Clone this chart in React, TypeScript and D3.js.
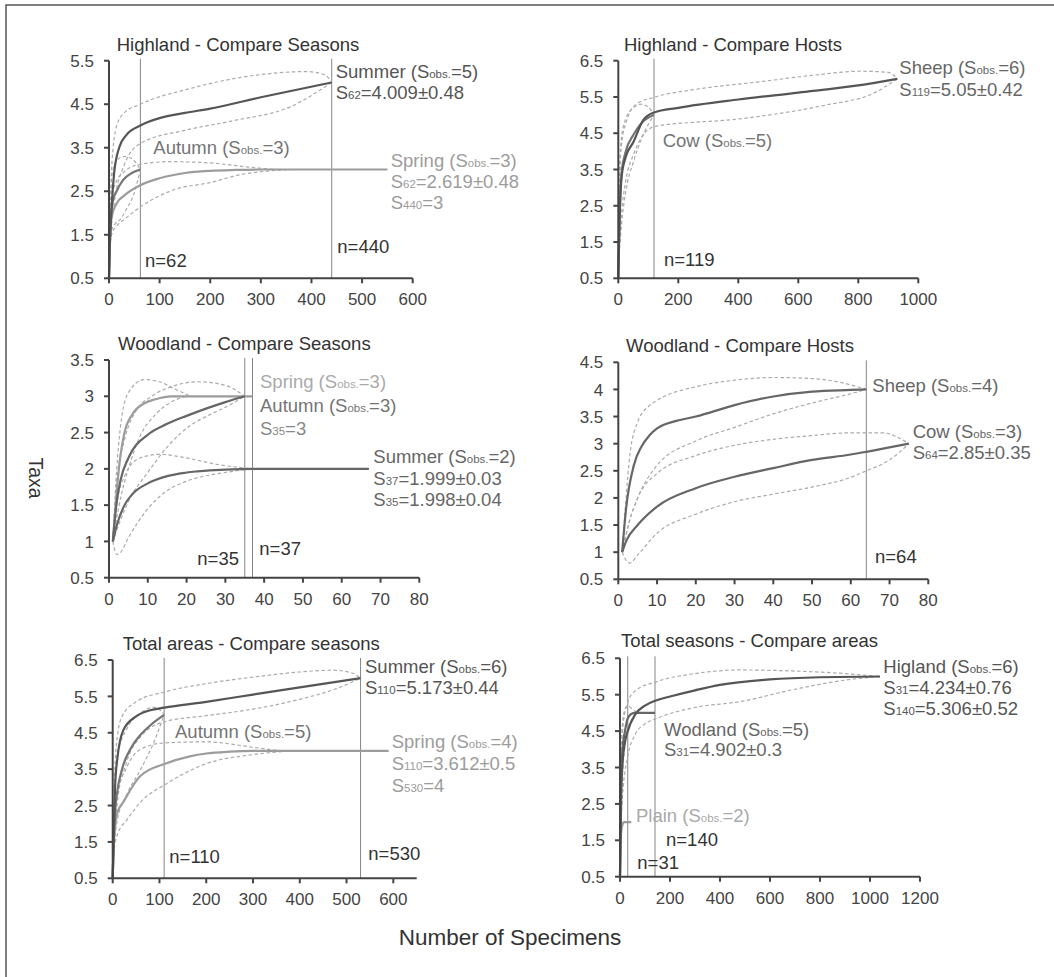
import React from "react"
import * as d3 from "d3"

// rarefaction curves, [specimens, taxa]

// Highland - Compare Seasons
const hsSummer = [[0, 0.5], [1, 1], [5, 2.1], [10, 2.9], [20, 3.5], [35, 3.8], [62, 4.01], [100, 4.18], [150, 4.3], [200, 4.4], [300, 4.66], [440, 5.0]]
const hsSummerHi = [[0, 0.5], [1, 1], [5, 3.0], [15, 4.0], [30, 4.3], [62, 4.5], [160, 4.86], [292, 5.17], [390, 5.25], [425, 5.18], [440, 5.02]]
const hsSummerLo = [[0, 0.5], [1, 1], [10, 2.2], [30, 3.1], [62, 3.6], [150, 3.9], [245, 4.12], [358, 4.44], [440, 5.0]]
const hsAutumn = [[0, 0.5], [1, 1], [3, 1.8], [8, 2.3], [15, 2.5], [28, 2.76], [45, 2.92], [62, 3.0]]
const hsAutumnHi = [[0, 0.5], [1, 1], [5, 2.8], [15, 3.2], [30, 3.3], [45, 3.25], [62, 3.0]]
const hsAutumnLo = [[0, 0.5], [1, 1], [5, 1.6], [12, 1.75], [22, 1.85], [35, 2.1], [48, 2.4], [62, 3.0]]
const hsSpring = [[0, 0.5], [1, 1], [5, 1.9], [15, 2.22], [30, 2.4], [62, 2.64], [100, 2.8], [150, 2.92], [200, 2.97], [250, 2.99], [300, 3], [550, 3]]
const hsSpringHi = [[0, 0.5], [1, 1], [10, 2.6], [30, 2.95], [62, 3.12], [120, 3.18], [200, 3.15], [280, 3.05], [330, 3.0]]
const hsSpringLo = [[0, 0.5], [1, 1], [5, 1.5], [15, 1.7], [30, 1.85], [62, 2.14], [127, 2.53], [200, 2.7], [259, 2.88], [320, 2.97], [360, 3.0]]

// Highland - Compare Hosts
const hhSheep = [[0, 0.5], [1, 1], [5, 2.3], [11, 3.3], [25, 3.85], [50, 4.25], [83, 4.86], [119, 5.07], [200, 5.2], [400, 5.43], [600, 5.62], [800, 5.82], [930, 6.0]]
const hhSheepHi = [[0, 0.5], [1, 1], [5, 3.3], [11, 4.2], [30, 4.9], [60, 5.3], [119, 5.49], [250, 5.7], [472, 5.92], [650, 6.1], [806, 6.21], [900, 6.18], [930, 6.0]]
const hhSheepLo = [[0, 0.5], [1, 1], [5, 1.6], [11, 2.3], [25, 3.2], [50, 3.9], [72, 4.31], [119, 4.68], [250, 4.8], [361, 4.86], [500, 5.0], [694, 5.28], [850, 5.6], [930, 6.0]]
const hhCow = [[0, 0.5], [1, 1], [5, 2.4], [11, 3.4], [25, 4.0], [50, 4.45], [80, 4.8], [119, 5.0]]
const hhCowHi = [[0, 0.5], [1, 1], [5, 3.6], [11, 4.4], [25, 4.9], [50, 5.2], [75, 5.3], [100, 5.22], [119, 5.0]]
const hhCowLo = [[0, 0.5], [1, 1], [5, 1.4], [11, 2.0], [25, 2.9], [50, 3.7], [80, 4.4], [119, 5.0]]

// Woodland - Compare Seasons
const wsSpring = [[1, 1], [2, 1.7], [3, 2.2], [4, 2.5], [6, 2.75], [9, 2.9], [12, 2.96], [16, 3.0], [37, 3.0]]
const wsSpringHi = [[1, 1], [2, 2.0], [3, 2.6], [5, 3.05], [9, 3.23], [13, 3.2], [17, 3.1], [21, 3.0]]
const wsSpringLo = [[1, 1], [3, 1.6], [5, 2.0], [8, 2.45], [12, 2.75], [16, 2.92], [20, 3.0]]
const wsAutumn = [[1, 1], [2, 1.55], [3, 1.85], [5, 2.15], [10, 2.47], [15, 2.62], [20, 2.73], [25, 2.83], [30, 2.92], [35, 3.0]]
const wsAutumnHi = [[1, 1], [2, 1.8], [4, 2.4], [7, 2.8], [11, 3.0], [16, 3.13], [23, 3.2], [30, 3.15], [35, 3.0]]
const wsAutumnLo = [[1, 1], [3, 1.3], [5, 1.55], [10, 1.95], [15, 2.3], [21, 2.6], [25, 2.72], [30, 2.85], [35, 3.0]]
const wsSummer = [[1, 1], [2, 1.22], [4, 1.5], [6, 1.65], [10, 1.8], [15, 1.9], [20, 1.95], [30, 1.99], [37, 2.0], [67, 2.0]]
const wsSummerHi = [[1, 1], [2, 1.5], [4, 1.9], [8, 2.15], [13, 2.2], [20, 2.15], [28, 2.06], [37, 2.0]]
const wsSummerLo = [[1, 1], [2, 0.82], [3, 0.85], [5, 1.05], [10, 1.45], [15, 1.7], [20, 1.83], [30, 1.95], [37, 2.0]]

// Woodland - Compare Hosts
const whSheep = [[1, 1], [2, 1.8], [4, 2.6], [6, 2.95], [8, 3.15], [10, 3.28], [15, 3.42], [20, 3.5], [30, 3.71], [40, 3.87], [50, 3.96], [60, 3.99], [64, 4.0]]
const whSheepHi = [[1, 1], [2, 2.0], [3, 2.8], [5, 3.4], [8, 3.7], [10, 3.8], [20, 4.05], [30, 4.17], [40, 4.22], [50, 4.2], [58, 4.12], [64, 4.0]]
const whSheepLo = [[1, 1], [3, 1.6], [5, 2.0], [10, 2.6], [20, 3.05], [30, 3.3], [40, 3.55], [50, 3.75], [60, 3.92], [64, 4.0]]
const whCow = [[1, 1], [2, 1.2], [5, 1.5], [10, 1.84], [20, 2.18], [30, 2.39], [40, 2.55], [50, 2.7], [60, 2.8], [64, 2.85], [75, 3.0]]
const whCowHi = [[1, 1], [3, 1.6], [5, 2.0], [10, 2.45], [20, 2.78], [30, 2.97], [40, 3.08], [50, 3.15], [60, 3.2], [68, 3.2], [75, 3.0]]
const whCowLo = [[1, 1], [2, 0.85], [3, 0.8], [5, 0.95], [10, 1.35], [20, 1.7], [30, 1.93], [40, 2.07], [50, 2.2], [60, 2.38], [64, 2.5], [70, 2.7], [75, 3.0]]

// Total areas - Compare seasons
const tsSummer = [[0, 0.5], [1, 1], [5, 3.0], [10, 3.8], [23, 4.58], [50, 4.95], [80, 5.12], [110, 5.19], [200, 5.35], [300, 5.55], [400, 5.75], [530, 6.0]]
const tsSummerHi = [[0, 0.5], [1, 1], [5, 3.6], [10, 4.4], [20, 4.95], [50, 5.35], [110, 5.62], [200, 5.85], [300, 6.03], [400, 6.17], [470, 6.22], [510, 6.15], [530, 6.0]]
const tsSummerLo = [[0, 0.5], [1, 1], [10, 2.6], [30, 3.7], [60, 4.4], [110, 4.8], [200, 4.97], [300, 5.15], [400, 5.42], [480, 5.72], [530, 6.0]]
const tsAutumn = [[0, 0.5], [1, 1], [5, 2.3], [10, 2.9], [20, 3.5], [40, 4.1], [60, 4.45], [80, 4.7], [110, 4.99]]
const tsAutumnHi = [[0, 0.5], [1, 1], [5, 3.2], [10, 3.9], [30, 4.6], [60, 5.05], [90, 5.2], [110, 5.0]]
const tsAutumnLo = [[0, 0.5], [1, 1], [10, 2.1], [30, 2.8], [60, 3.5], [90, 4.3], [110, 5.0]]
const tsSpring = [[0, 0.5], [1, 1], [5, 1.9], [10, 2.3], [23, 2.6], [58, 3.3], [115, 3.66], [165, 3.85], [200, 3.93], [250, 3.98], [300, 4.0], [590, 4.0]]
const tsSpringHi = [[0, 0.5], [1, 1], [10, 2.8], [30, 3.55], [60, 4.05], [110, 4.22], [200, 4.25], [300, 4.1], [360, 4.0]]
const tsSpringLo = [[0, 0.5], [1, 1], [10, 1.7], [30, 2.1], [60, 2.6], [115, 3.1], [200, 3.65], [300, 3.9], [380, 4.0]]

// Total seasons - Compare areas
const taHigland = [[0, 0.5], [1, 1], [5, 2.8], [10, 3.6], [20, 4.2], [31, 4.5], [60, 4.95], [100, 5.2], [147, 5.35], [200, 5.45], [300, 5.62], [400, 5.77], [600, 5.92], [800, 5.98], [1040, 6.0]]
const taHiglandHi = [[0, 0.5], [1, 1], [5, 3.8], [10, 4.5], [31, 5.3], [60, 5.6], [147, 5.86], [300, 6.08], [480, 6.18], [700, 6.15], [900, 6.08], [1040, 6.0]]
const taHiglandLo = [[0, 0.5], [1, 1], [10, 2.7], [31, 3.8], [60, 4.4], [100, 4.7], [147, 4.85], [300, 5.15], [480, 5.31], [700, 5.65], [900, 5.9], [1040, 6.0]]
const taWodland = [[0, 0.5], [1, 1], [3, 2.5], [6, 3.5], [10, 4.0], [20, 4.5], [31, 4.85], [45, 4.97], [60, 5.0], [140, 5.0]]
const taWodlandHi = [[0, 0.5], [1, 1], [3, 3.3], [6, 4.3], [10, 4.7], [20, 5.1], [31, 5.2], [50, 5.1], [70, 5.0]]
const taWodlandLo = [[0, 0.5], [1, 1], [3, 1.8], [6, 2.7], [10, 3.3], [20, 4.1], [31, 4.55], [50, 4.85], [70, 5.0]]
const taPlain = [[0, 0.5], [1, 1], [3, 1.55], [6, 1.8], [10, 1.93], [15, 2.0], [45, 2.0]]

// sample sizes marked by vertical lines
const hsN = [62, 440]
const hhN = [119]
const wsN = [35, 37]
const whN = [64]
const tsN = [110, 530]
const taN = [31, 140]

const dark = "#555"
const mid = "#747474"
const light = "#9c9c9c"
const ci = "#ababab"

const mean = (data, color = dark) => ({ data, color, width: 2.2 })
const band = (data) => ({ data, color: ci, width: 1.2, dash: "3.5,2.5" })

const panels = [
  {
    title: "Highland - Compare Seasons", tx: 116.7, ty: 50.7,
    xDomain: [0, 600], xStep: 100, yDomain: [0.5, 5.5], yStep: 1,
    box: [109, 412.7, 60.7, 278.3], nLines: hsN,
    series: [band(hsSummerHi), band(hsSummerLo), band(hsAutumnHi), band(hsAutumnLo), band(hsSpringHi), band(hsSpringLo),
      mean(hsSpring, light), mean(hsAutumn, mid), mean(hsSummer, dark)],
    labels: [
      { x: 335.7, y: 78.3, c: dark, t: "Summer (S|obs.|=5)" },
      { x: 335.7, y: 99, c: dark, t: "S|62|=4.009±0.48" },
      { x: 153.3, y: 154, c: mid, t: "Autumn (S|obs.|=3)" },
      { x: 390.7, y: 166.7, c: light, t: "Spring (S|obs.|=3)" },
      { x: 390.7, y: 188.3, c: light, t: "S|62|=2.619±0.48" },
      { x: 390.7, y: 209.3, c: light, t: "S|440|=3" },
      { x: 145, y: 266.7, c: "#333", t: "n=62" },
      { x: 337.3, y: 253.3, c: "#333", t: "n=440" },
    ],
  },
  {
    title: "Highland - Compare Hosts", tx: 624, ty: 50.7,
    xDomain: [0, 1000], xStep: 200, yDomain: [0.5, 6.5], yStep: 1,
    box: [618.3, 918.3, 60.7, 278.3], nLines: hhN,
    series: [band(hhSheepHi), band(hhSheepLo), band(hhCowHi), band(hhCowLo), mean(hhCow, mid), mean(hhSheep, dark)],
    labels: [
      { x: 899.3, y: 74.3, c: "#666", t: "Sheep (S|obs.|=6)" },
      { x: 899.3, y: 96, c: "#666", t: "S|119|=5.05±0.42" },
      { x: 662.7, y: 146.7, c: mid, t: "Cow (S|obs.|=5)" },
      { x: 664, y: 266, c: "#333", t: "n=119" },
    ],
  },
  {
    title: "Woodland - Compare Seasons", tx: 118, ty: 350,
    xDomain: [0, 80], xStep: 10, yDomain: [0.5, 3.5], yStep: 0.5,
    box: [109, 419.3, 360, 577.7], nLines: wsN,
    series: [band(wsSpringHi), band(wsSpringLo), band(wsAutumnHi), band(wsAutumnLo), band(wsSummerHi), band(wsSummerLo),
      mean(wsSpring, light), mean(wsAutumn, "#666"), mean(wsSummer, "#666")],
    labels: [
      { x: 260, y: 388.3, c: "#aaa", t: "Spring (S|obs.|=3)" },
      { x: 260, y: 411.7, c: mid, t: "Autumn  (S|obs.|=3)" },
      { x: 260, y: 435, c: "#888", t: "S|35|=3" },
      { x: 373.3, y: 463.3, c: "#666", t: "Summer (S|obs.|=2)" },
      { x: 373.3, y: 485, c: "#666", t: "S|37|=1.999±0.03" },
      { x: 373.3, y: 506, c: "#666", t: "S|35|=1.998±0.04" },
      { x: 197.3, y: 565, c: "#333", t: "n=35" },
      { x: 259.3, y: 555, c: "#333", t: "n=37" },
    ],
  },
  {
    title: "Woodland - Compare Hosts", tx: 626, ty: 351.7,
    xDomain: [0, 80], xStep: 10, yDomain: [0.5, 4.5], yStep: 0.5,
    box: [618.3, 928.3, 362.3, 579.3], nLines: whN,
    series: [band(whSheepHi), band(whSheepLo), band(whCowHi), band(whCowLo), mean(whCow, "#666"), mean(whSheep, "#666")],
    labels: [
      { x: 872.3, y: 391.7, c: "#666", t: "Sheep  (S|obs.|=4)" },
      { x: 912.7, y: 438.3, c: "#666", t: "Cow (S|obs.|=3)" },
      { x: 912.7, y: 459.3, c: "#666", t: "S|64|=2.85±0.35" },
      { x: 875, y: 562.7, c: "#333", t: "n=64" },
    ],
  },
  {
    title: "Total areas - Compare seasons", tx: 122.7, ty: 650,
    xDomain: [0, 650], xStep: 100, xMaxTick: 600, yDomain: [0.5, 6.5], yStep: 1,
    box: [112.7, 416.7, 660, 878.3], nLines: tsN,
    series: [band(tsSummerHi), band(tsSummerLo), band(tsAutumnHi), band(tsAutumnLo), band(tsSpringHi), band(tsSpringLo),
      mean(tsSpring, light), mean(tsAutumn, mid), mean(tsSummer, dark)],
    labels: [
      { x: 365, y: 673.3, c: dark, t: "Summer (S|obs.|=6)" },
      { x: 365, y: 694, c: dark, t: "S|110|=5.173±0.44" },
      { x: 175, y: 738.3, c: mid, t: "Autumn (S|obs.|=5)" },
      { x: 391.7, y: 748.3, c: light, t: "Spring (S|obs.|=4)" },
      { x: 391.7, y: 770, c: light, t: "S|110|=3.612±0.5" },
      { x: 391.7, y: 791.7, c: light, t: "S|530|=4" },
      { x: 169.3, y: 863.3, c: "#333", t: "n=110" },
      { x: 368.3, y: 860, c: "#333", t: "n=530" },
    ],
  },
  {
    title: "Total seasons - Compare areas", tx: 621, ty: 647,
    xDomain: [0, 1200], xStep: 200, yDomain: [0.5, 6.5], yStep: 1,
    box: [620, 920, 658.3, 876.7], nLines: taN,
    series: [band(taHiglandHi), band(taHiglandLo), band(taWodlandHi), band(taWodlandLo),
      mean(taPlain, light), mean(taWodland, "#666"), mean(taHigland, dark)],
    labels: [
      { x: 883.3, y: 673.3, c: dark, t: "Higland (S|obs.|=6)" },
      { x: 883.3, y: 694, c: dark, t: "S|31|=4.234±0.76" },
      { x: 883.3, y: 715, c: dark, t: "S|140|=5.306±0.52" },
      { x: 664, y: 736, c: "#666", t: "Wodland (S|obs.|=5)" },
      { x: 664, y: 756, c: "#666", t: "S|31|=4.902±0.3" },
      { x: 636, y: 821.7, c: "#aaa", t: "Plain (S|obs.|=2)" },
      { x: 666, y: 846, c: "#333", t: "n=140" },
      { x: 637.3, y: 869.3, c: "#333", t: "n=31" },
    ],
  },
]

const font = "'Liberation Sans', Arial, sans-serif"
const labelSize = 18.5

const Label = ({ l }) => (
  <text x={l.x} y={l.y} fill={l.c} fontSize={labelSize}>
    {l.t.split("|").map((s, i) => (
      <tspan key={i} fontSize={i % 2 ? labelSize * 0.62 : labelSize}>{s}</tspan>
    ))}
  </text>
)

const Panel = ({ p }) => {
  const [left, right, top, bottom] = p.box
  const x = d3.scaleLinear().domain(p.xDomain).range([left, right])
  const y = d3.scaleLinear().domain(p.yDomain).range([bottom, top])
  const line = d3.line().x(d => x(d[0])).y(d => y(d[1])).curve(d3.curveMonotoneX)
  const xTicks = d3.range(p.xDomain[0], (p.xMaxTick ?? p.xDomain[1]) + 1e-9, p.xStep)
  const yTicks = d3.range(p.yDomain[0], p.yDomain[1] + 1e-9, p.yStep).map(v => +v.toFixed(2))
  return (
    <g>
      <text x={p.tx} y={p.ty} fontSize={18.5} fill="#333">{p.title}</text>
      {p.nLines.map(n => (
        <line key={n} x1={x(n)} x2={x(n)} y1={top - 2} y2={bottom} stroke="#858585" strokeWidth={1} />
      ))}
      {p.series.map((s, i) => (
        <path key={i} d={line(s.data)} fill="none" stroke={s.color} strokeWidth={s.width}
          strokeDasharray={s.dash} strokeLinejoin="round" />
      ))}
      <line x1={left} x2={left} y1={top} y2={bottom} stroke="#444" strokeWidth={2} />
      <line x1={left} x2={right} y1={bottom} y2={bottom} stroke="#444" strokeWidth={2} />
      {yTicks.map(v => (
        <g key={v}>
          <line x1={left - 5} x2={left} y1={y(v)} y2={y(v)} stroke="#444" strokeWidth={2} />
          <text x={left - 15} y={y(v)} dy="0.36em" textAnchor="end" fontSize={17} fill="#444">{String(v)}</text>
        </g>
      ))}
      {xTicks.map(v => (
        <g key={v}>
          <line x1={x(v)} x2={x(v)} y1={bottom} y2={bottom + 5} stroke="#444" strokeWidth={2} />
          <text x={x(v)} y={bottom + 27} textAnchor="middle" fontSize={17} fill="#444">{v}</text>
        </g>
      ))}
      {p.labels.map((l, i) => <Label key={i} l={l} />)}
    </g>
  )
}

export default function App() {
  return (
    <svg width={1054} height={977} fontFamily={font}
      style={{ position: "absolute", left: 0, top: 0, background: "#fff" }}>
      <rect x={6} y={5} width={1100} height={1100} fill="#fff" stroke="#555" strokeWidth={1.5} />
      {panels.map((p, i) => <Panel key={i} p={p} />)}
      <text transform="translate(36,478) rotate(90)" dy="0.35em" textAnchor="middle" fontSize={19.5} fill="#333">Taxa</text>
      <text x={510} y={945} textAnchor="middle" fontSize={22.5} fill="#333">Number of Specimens</text>
    </svg>
  )
}
